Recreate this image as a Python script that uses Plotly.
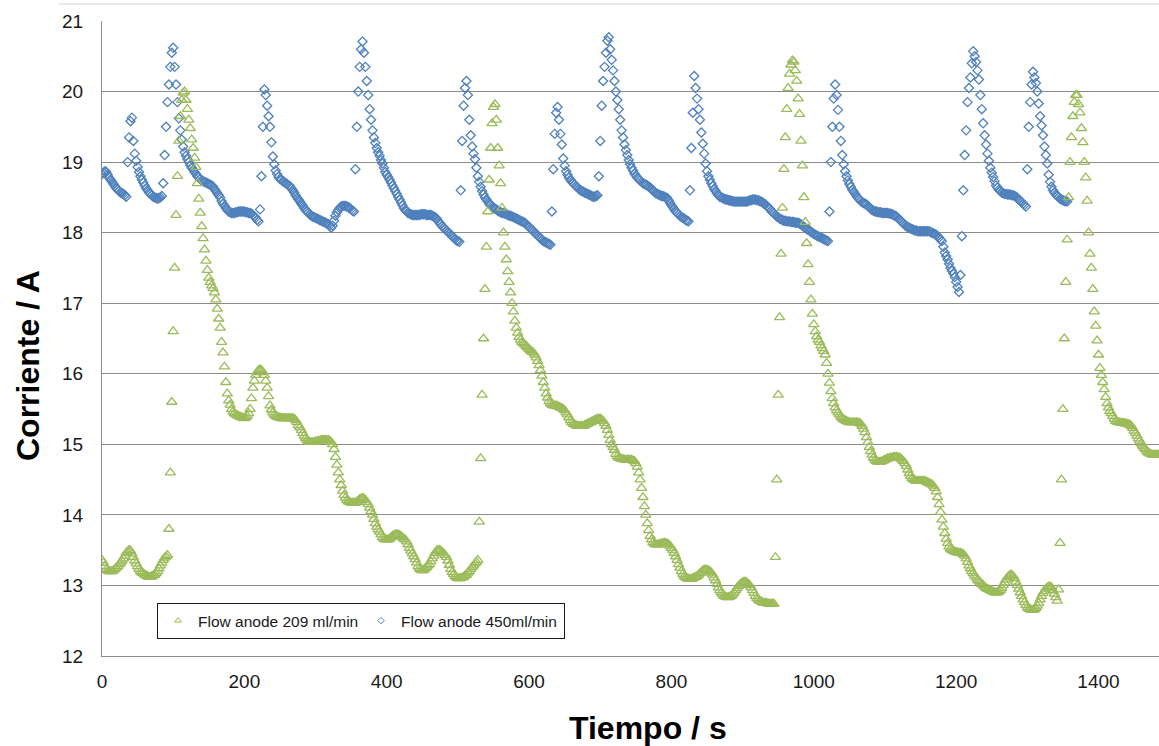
import numpy as np
import plotly.graph_objects as go

# Logged current samples, one every SAMPLE_STEP seconds starting at t = 0
SAMPLE_STEP = 2

# Anode flow 450 ml/min (A)
current_450 = [
    18.83, 18.85, 18.87, 18.86, 18.82, 18.78, 18.75, 18.72, 18.69, 18.66,
    18.63, 18.61, 18.59, 18.57, 18.56, 18.55, 18.53, 18.51, 19.0, 19.35,
    19.58, 19.63, 19.3, 19.12, 19.02, 18.93, 18.86, 18.8, 18.75, 18.71,
    18.67, 18.63, 18.6, 18.57, 18.55, 18.53, 18.51, 18.5, 18.49, 18.48,
    18.49, 18.5, 18.52, 18.7, 19.1, 19.5, 19.85, 20.1, 20.35, 20.55,
    20.62, 20.35, 20.1, 19.85, 19.62, 19.45, 19.32, 19.22, 19.14, 19.09,
    19.04, 19.0, 18.96, 18.92, 18.89, 18.86, 18.83, 18.8, 18.78, 18.76,
    18.74, 18.73, 18.72, 18.71, 18.7, 18.69, 18.68, 18.67, 18.65, 18.62,
    18.59, 18.56, 18.53, 18.5, 18.45, 18.41, 18.38, 18.35, 18.32, 18.3,
    18.29, 18.28, 18.28, 18.28, 18.29, 18.29, 18.3, 18.3, 18.3, 18.3,
    18.3, 18.29, 18.29, 18.28, 18.28, 18.27, 18.25, 18.23, 18.21, 18.18,
    18.16, 18.33, 18.8, 19.5, 20.03, 19.95, 19.8, 19.65, 19.5, 19.28,
    19.08, 18.97, 18.88, 18.83, 18.79, 18.76, 18.75, 18.73, 18.72, 18.7,
    18.69, 18.67, 18.66, 18.63, 18.6, 18.57, 18.53, 18.5, 18.47, 18.44,
    18.41, 18.38, 18.35, 18.32, 18.3, 18.28, 18.26, 18.24, 18.23, 18.22,
    18.21, 18.2, 18.19, 18.18, 18.17, 18.16, 18.15, 18.14, 18.13, 18.12,
    18.1, 18.07, 18.1, 18.17, 18.24, 18.29, 18.32, 18.35, 18.37, 18.38,
    18.38, 18.38, 18.37, 18.36, 18.35, 18.33, 18.31, 18.3, 18.9, 19.5,
    20.0, 20.35, 20.6, 20.71, 20.55, 20.35, 20.15, 19.95, 19.75, 19.6,
    19.45, 19.35, 19.27, 19.2, 19.14, 19.09, 19.03, 18.98, 18.92, 18.86,
    18.82, 18.79, 18.75, 18.71, 18.67, 18.63, 18.59, 18.55, 18.51, 18.47,
    18.43, 18.39, 18.35, 18.32, 18.3, 18.28, 18.27, 18.26, 18.25, 18.25,
    18.25, 18.25, 18.25, 18.25, 18.26, 18.26, 18.26, 18.26, 18.25, 18.25,
    18.25, 18.25, 18.24, 18.23, 18.22, 18.2, 18.17, 18.14, 18.12, 18.09,
    18.07, 18.05, 18.03, 18.01, 17.99, 17.97, 17.95, 17.93, 17.91, 17.89,
    17.88, 17.87, 18.6, 19.3, 19.8, 20.05, 20.15, 19.95, 19.6, 19.38,
    19.22, 19.12, 19.04, 18.92, 18.8, 18.72, 18.65, 18.59, 18.54, 18.5,
    18.47, 18.44, 18.41, 18.39, 18.37, 18.36, 18.34, 18.33, 18.31, 18.3,
    18.29, 18.28, 18.28, 18.27, 18.26, 18.25, 18.24, 18.24, 18.23, 18.22,
    18.21, 18.2, 18.19, 18.18, 18.17, 18.16, 18.15, 18.14, 18.12, 18.1,
    18.08, 18.06, 18.04, 18.02, 18.0, 17.98, 17.96, 17.94, 17.92, 17.9,
    17.88, 17.87, 17.86, 17.85, 17.84, 17.83, 18.3, 18.9, 19.4, 19.7,
    19.78, 19.6, 19.4, 19.25, 19.05, 18.95, 18.87, 18.82, 18.78, 18.75,
    18.72, 18.7, 18.68, 18.66, 18.64, 18.62, 18.6, 18.59, 18.58, 18.57,
    18.56, 18.55, 18.54, 18.53, 18.52, 18.51, 18.51, 18.52, 18.53, 18.8,
    19.3, 19.8, 20.15, 20.35, 20.55, 20.72, 20.77, 20.6, 20.45, 20.3,
    20.15, 20.0, 19.88, 19.75, 19.6, 19.45, 19.35, 19.25, 19.17, 19.1,
    19.03, 18.97, 18.92, 18.88, 18.84, 18.81, 18.78, 18.76, 18.74, 18.72,
    18.7, 18.69, 18.68, 18.67, 18.65, 18.64, 18.62, 18.6, 18.58, 18.56,
    18.55, 18.54, 18.53, 18.52, 18.52, 18.51, 18.5, 18.49, 18.46, 18.42,
    18.39, 18.36, 18.33, 18.3, 18.28, 18.26, 18.24, 18.22, 18.21, 18.2,
    18.18, 18.17, 18.16, 18.6, 19.2, 19.7, 20.22, 20.05, 19.9, 19.75,
    19.6, 19.42, 19.26, 19.12, 18.98, 18.87, 18.8, 18.75, 18.7, 18.66,
    18.62, 18.59, 18.56, 18.53, 18.51, 18.5, 18.49, 18.48, 18.47, 18.47,
    18.46, 18.46, 18.45, 18.45, 18.44, 18.44, 18.44, 18.44, 18.44, 18.44,
    18.44, 18.44, 18.44, 18.44, 18.45, 18.46, 18.46, 18.47, 18.47, 18.47,
    18.46, 18.46, 18.45, 18.44, 18.43, 18.41, 18.4, 18.38, 18.36, 18.34,
    18.31, 18.29, 18.27, 18.25, 18.23, 18.22, 18.2, 18.19, 18.18, 18.17,
    18.17, 18.16, 18.16, 18.16, 18.15, 18.15, 18.15, 18.14, 18.14, 18.14,
    18.13, 18.12, 18.1, 18.08, 18.07, 18.05, 18.04, 18.03, 18.01, 18.0,
    17.98, 17.97, 17.96, 17.95, 17.94, 17.93, 17.92, 17.91, 17.9, 17.89,
    17.88, 18.3, 19.0, 19.5, 19.9, 20.1, 19.95, 19.74, 19.5, 19.3,
    19.1, 18.97, 18.87, 18.8, 18.74, 18.69, 18.65, 18.61, 18.58, 18.55,
    18.52, 18.49, 18.47, 18.45, 18.43, 18.42, 18.41, 18.4, 18.38, 18.36,
    18.34, 18.32, 18.31, 18.3, 18.3, 18.29, 18.29, 18.29, 18.28, 18.28,
    18.28, 18.28, 18.28, 18.27, 18.27, 18.26, 18.25, 18.24, 18.23, 18.21,
    18.19, 18.17, 18.15, 18.13, 18.11, 18.09, 18.08, 18.07, 18.06, 18.05,
    18.04, 18.03, 18.03, 18.02, 18.02, 18.02, 18.02, 18.02, 18.02, 18.02,
    18.02, 18.02, 18.01, 18.0, 17.99, 17.98, 17.97, 17.95, 17.93, 17.9,
    17.88, 17.8, 17.72, 17.67, 17.62, 17.56, 17.5, 17.46, 17.42, 17.37,
    17.3, 17.23, 17.16, 17.4, 17.95, 18.6, 19.1, 19.45, 19.85, 20.05,
    20.2, 20.4, 20.57, 20.5, 20.42, 20.3, 20.17, 19.95, 19.75, 19.55,
    19.38, 19.25, 19.12, 19.02, 18.92, 18.85, 18.79, 18.73, 18.67, 18.64,
    18.61, 18.59, 18.57, 18.56, 18.55, 18.55, 18.54, 18.54, 18.54, 18.53,
    18.53, 18.52, 18.51, 18.49, 18.47, 18.45, 18.43, 18.41, 18.39, 18.37,
    18.9, 19.5, 19.85, 20.1, 20.28, 20.2, 20.12, 20.0, 19.83, 19.65,
    19.52, 19.38, 19.22, 19.1, 18.98, 18.82, 18.72, 18.65, 18.6, 18.57,
    18.54, 18.52, 18.5, 18.48, 18.47, 18.46, 18.45, 18.45, 18.44,
]

# Anode flow 209 ml/min (A)
current_209 = [
    13.36, 13.32, 13.27, 13.23, 13.21, 13.2, 13.2, 13.2, 13.21, 13.23,
    13.25, 13.27, 13.3, 13.32, 13.35, 13.38, 13.42, 13.46, 13.48, 13.5,
    13.49, 13.45, 13.4, 13.35, 13.31, 13.27, 13.23, 13.2, 13.18, 13.17,
    13.15, 13.14, 13.13, 13.12, 13.12, 13.13, 13.14, 13.15, 13.17, 13.2,
    13.24, 13.28, 13.32, 13.36, 13.39, 13.41, 13.43, 13.8, 14.6, 15.6,
    16.6, 17.5, 18.25, 18.8, 19.3, 19.65, 19.88, 19.98, 20.0, 19.88,
    19.75, 19.6, 19.48, 19.32, 19.2, 19.06, 18.93, 18.7, 18.48, 18.28,
    18.09, 17.92, 17.76, 17.6, 17.47, 17.36, 17.3, 17.25, 17.21, 17.15,
    17.05, 16.92, 16.78, 16.65, 16.45, 16.3, 16.1, 15.88, 15.72, 15.62,
    15.56, 15.5, 15.46, 15.44, 15.42, 15.41, 15.4, 15.39, 15.38, 15.38,
    15.37, 15.38, 15.4, 15.44, 15.5, 15.65, 15.8, 15.9, 15.98, 16.02,
    16.05, 16.06, 16.05, 16.02, 15.98, 15.9, 15.8, 15.68, 15.55, 15.49,
    15.45, 15.42, 15.4, 15.39, 15.38, 15.38, 15.37, 15.37, 15.37, 15.37,
    15.37, 15.37, 15.37, 15.37, 15.37, 15.36, 15.34, 15.31, 15.27, 15.24,
    15.2, 15.16, 15.12, 15.09, 15.06, 15.04, 15.03, 15.03, 15.03, 15.03,
    15.04, 15.04, 15.05, 15.05, 15.06, 15.06, 15.06, 15.06, 15.06, 15.06,
    15.05, 15.03, 15.0, 14.93, 14.82, 14.71, 14.6, 14.5, 14.42, 14.34,
    14.28, 14.24, 14.21, 14.19, 14.18, 14.17, 14.17, 14.17, 14.17, 14.18,
    14.2, 14.22, 14.23, 14.24, 14.23, 14.21, 14.18, 14.15, 14.1, 14.05,
    14.0, 13.94, 13.88, 13.83, 13.79, 13.76, 13.72, 13.68, 13.66, 13.65,
    13.65, 13.65, 13.66, 13.68, 13.7, 13.71, 13.72, 13.72, 13.72, 13.71,
    13.7, 13.68, 13.66, 13.65, 13.62, 13.58, 13.53, 13.49, 13.45, 13.41,
    13.37, 13.32, 13.27, 13.24, 13.22, 13.21, 13.22, 13.24, 13.26, 13.28,
    13.3, 13.34, 13.38, 13.42, 13.46, 13.49, 13.5, 13.5, 13.49, 13.47,
    13.45, 13.43, 13.4, 13.35, 13.29, 13.23, 13.19, 13.16, 13.13, 13.11,
    13.1, 13.1, 13.1, 13.11, 13.12, 13.14, 13.15, 13.18, 13.2, 13.23,
    13.26, 13.28, 13.31, 13.33, 13.36, 13.9, 14.8, 15.7, 16.5, 17.2,
    17.8, 18.3, 18.75, 19.2, 19.55, 19.78, 19.82, 19.6, 19.2, 18.95,
    18.7, 18.35, 18.0, 17.8, 17.62, 17.45, 17.3, 17.15, 17.0, 16.88,
    16.75, 16.65, 16.58, 16.52, 16.48, 16.45, 16.43, 16.41, 16.39, 16.37,
    16.35, 16.33, 16.31, 16.3, 16.27, 16.23, 16.18, 16.12, 16.05, 15.97,
    15.88, 15.8, 15.72, 15.66, 15.61, 15.58, 15.56, 15.55, 15.55, 15.55,
    15.54, 15.53, 15.52, 15.51, 15.5, 15.48, 15.45, 15.42, 15.38, 15.34,
    15.31, 15.29, 15.28, 15.27, 15.26, 15.26, 15.26, 15.26, 15.26, 15.27,
    15.28, 15.29, 15.3, 15.31, 15.32, 15.33, 15.34, 15.35, 15.36, 15.36,
    15.36, 15.35, 15.33, 15.3, 15.26, 15.2, 15.13, 15.06, 15.0, 14.96,
    14.92, 14.86, 14.83, 14.81, 14.8, 14.79, 14.79, 14.78, 14.78, 14.78,
    14.78, 14.78, 14.78, 14.77, 14.76, 14.73, 14.68, 14.6, 14.5, 14.38,
    14.25, 14.12, 14.0, 13.88, 13.78, 13.7, 13.65, 13.61, 13.59, 13.58,
    13.58, 13.58, 13.59, 13.59, 13.6, 13.6, 13.6, 13.59, 13.58, 13.56,
    13.53, 13.5, 13.46, 13.41, 13.36, 13.3, 13.25, 13.2, 13.16, 13.13,
    13.11, 13.1, 13.09, 13.09, 13.09, 13.1, 13.11, 13.12, 13.13, 13.15,
    13.17, 13.19, 13.21, 13.22, 13.22, 13.22, 13.21, 13.2, 13.18, 13.15,
    13.11, 13.07, 13.02, 12.97, 12.93, 12.9, 12.87, 12.85, 12.84, 12.83,
    12.83, 12.84, 12.85, 12.87, 12.9, 12.93, 12.96, 12.99, 13.01, 13.03,
    13.04, 13.05, 13.05, 13.04, 13.02, 13.0, 12.97, 12.93, 12.89, 12.85,
    12.82, 12.8, 12.78, 12.77, 12.76, 12.75, 12.75, 12.75, 12.74, 12.74,
    12.74, 12.74, 12.74, 13.4, 14.5, 15.7, 16.8, 17.7, 18.35, 18.9,
    19.35, 19.75, 20.05, 20.25, 20.38, 20.44, 20.42, 20.3, 20.15, 19.9,
    19.68, 19.3, 18.95, 18.5, 18.15, 17.85, 17.55, 17.3, 17.05, 16.85,
    16.7, 16.6, 16.53, 16.48, 16.45, 16.4, 16.36, 16.32, 16.27, 16.15,
    16.0, 15.87, 15.75, 15.65, 15.58, 15.52, 15.48, 15.45, 15.42, 15.39,
    15.37, 15.35, 15.34, 15.33, 15.32, 15.31, 15.31, 15.31, 15.31, 15.31,
    15.31, 15.31, 15.3, 15.29, 15.26, 15.22, 15.17, 15.1, 15.03, 14.96,
    14.9, 14.85, 14.81, 14.78, 14.76, 14.75, 14.75, 14.75, 14.76, 14.77,
    14.78, 14.79, 14.8, 14.8, 14.81, 14.81, 14.82, 14.82, 14.82, 14.82,
    14.81, 14.8, 14.78, 14.76, 14.73, 14.69, 14.64, 14.59, 14.55, 14.52,
    14.5, 14.49, 14.48, 14.48, 14.48, 14.48, 14.48, 14.48, 14.48, 14.47,
    14.46, 14.45, 14.44, 14.43, 14.41, 14.38, 14.33, 14.25, 14.15, 14.04,
    13.93, 13.83, 13.74, 13.66, 13.6, 13.55, 13.52, 13.5, 13.49, 13.48,
    13.47, 13.47, 13.46, 13.46, 13.45, 13.44, 13.42, 13.38, 13.33, 13.28,
    13.24, 13.2, 13.17, 13.14, 13.11, 13.08, 13.06, 13.04, 13.02, 13.0,
    12.98, 12.96, 12.95, 12.94, 12.93, 12.92, 12.91, 12.9, 12.9, 12.9,
    12.91, 12.93, 12.96, 13.0, 13.04, 13.08, 13.11, 13.13, 13.15, 13.15,
    13.13, 13.1, 13.05, 13.0, 12.95, 12.9, 12.85, 12.8, 12.76, 12.72,
    12.69, 12.67, 12.66, 12.65, 12.65, 12.66, 12.68, 12.71, 12.75, 12.8,
    12.85, 12.89, 12.92, 12.95, 12.97, 12.98, 12.98, 12.97, 12.93, 12.88,
    12.83, 12.78, 12.94, 13.6, 14.5, 15.5, 16.5, 17.3, 17.9, 18.5,
    19.0, 19.35, 19.65, 19.85, 19.95, 19.95, 19.82, 19.7, 19.48, 19.28,
    19.0, 18.78, 18.45, 18.0, 17.7, 17.5, 17.2, 16.88, 16.68, 16.47,
    16.27, 16.08, 15.98, 15.88, 15.78, 15.67, 15.58, 15.52, 15.47, 15.44,
    15.4, 15.36, 15.33, 15.32, 15.31, 15.31, 15.3, 15.3, 15.3, 15.29,
    15.29, 15.28, 15.28, 15.26, 15.23, 15.19, 15.16, 15.12, 15.08, 15.05,
    15.01, 14.98, 14.95, 14.93, 14.9, 14.88, 14.87, 14.86, 14.85, 14.85,
    14.85, 14.85, 14.85, 14.85, 14.85, 14.85,
]

x_ticks = [0, 200, 400, 600, 800, 1000, 1200, 1400]
y_ticks = [12, 13, 14, 15, 16, 17, 18, 19, 20, 21]
series_names = ["Flow anode 209 ml/min", "Flow anode 450ml/min"]

time_209 = np.arange(len(current_209)) * SAMPLE_STEP
time_450 = np.arange(len(current_450)) * SAMPLE_STEP

GREEN = "#9BBB59"
BLUE = "#4F81BD"
GRID = "#8c8c8c"
FONT = "Arial, Liberation Sans, sans-serif"

W, H = 1159, 746
ML, MR, MT, MB = 102, 0, 21, 90
PW, PH = W - ML - MR, H - MT - MB


def px_to_paper(px, py):
    return (px - ML) / PW, (H - MB - py) / PH


fig = go.Figure()

# legend-only entries with the small legend symbols
fig.add_trace(go.Scatter(
    x=[None], y=[None], mode="markers", name=series_names[0],
    marker=dict(symbol="triangle-up-open", size=6, color=GREEN,
                line=dict(width=1, color=GREEN)),
))
fig.add_trace(go.Scatter(
    x=[None], y=[None], mode="markers", name=series_names[1],
    marker=dict(symbol="diamond-open", size=5, color=BLUE,
                line=dict(width=1, color=BLUE)),
))

fig.add_trace(go.Scatter(
    x=time_450, y=current_450, mode="markers", showlegend=False,
    name=series_names[1],
    marker=dict(symbol="diamond-open", size=7, color=BLUE,
                line=dict(width=1.3, color=BLUE)),
))
fig.add_trace(go.Scatter(
    x=time_209, y=current_209, mode="markers", showlegend=False,
    name=series_names[0],
    marker=dict(symbol="triangle-up-open", size=9, color=GREEN,
                line=dict(width=1.3, color=GREEN)),
))

lx, ly = px_to_paper(157, 603)
yt_x, yt_y = px_to_paper(28, 366)
xt_x, xt_y = px_to_paper(648, 728)
bx0, by0 = px_to_paper(58, 4)

fig.update_layout(
    width=W, height=H,
    margin=dict(l=ML, r=MR, t=MT, b=MB),
    paper_bgcolor="white", plot_bgcolor="white",
    font=dict(family=FONT, color="#1a1a1a"),
    showlegend=True,
    legend=dict(
        orientation="h", x=lx, y=ly, xanchor="left", yanchor="top",
        bgcolor="white", bordercolor="#1a1a1a", borderwidth=1,
        font=dict(family=FONT, size=15.5, color="#1a1a1a"),
        itemwidth=30, entrywidth=158, entrywidthmode="pixels",
    ),
    xaxis=dict(
        range=[0, 1485], tickvals=x_ticks, showgrid=False, zeroline=False,
        showline=True, linecolor=GRID, linewidth=1,
        ticks="outside", ticklen=8, tickcolor="rgba(0,0,0,0)",
        tickfont=dict(family=FONT, size=19, color="#1a1a1a"),
    ),
    yaxis=dict(
        range=[12, 21], tickvals=y_ticks, showgrid=True, gridcolor=GRID,
        gridwidth=1, zeroline=False, showline=True, linecolor=GRID,
        linewidth=1, ticks="outside", ticklen=14,
        tickcolor="rgba(0,0,0,0)",
        tickfont=dict(family=FONT, size=19, color="#1a1a1a"),
    ),
    annotations=[
        dict(text="Corriente / A", xref="paper", yref="paper",
             x=yt_x, y=yt_y, xanchor="center", yanchor="middle",
             textangle=-90, showarrow=False,
             font=dict(family=FONT, size=32, color="black", weight="bold")),
        dict(text="Tiempo / s", xref="paper", yref="paper",
             x=xt_x, y=xt_y, xanchor="center", yanchor="middle",
             showarrow=False,
             font=dict(family=FONT, size=32, color="black", weight="bold")),
    ],
    shapes=[
        dict(type="line", xref="paper", yref="paper",
             x0=bx0, x1=1.0, y0=by0, y1=by0,
             line=dict(color="#d9d9d9", width=1)),
    ],
)

fig.write_html("out.html")
